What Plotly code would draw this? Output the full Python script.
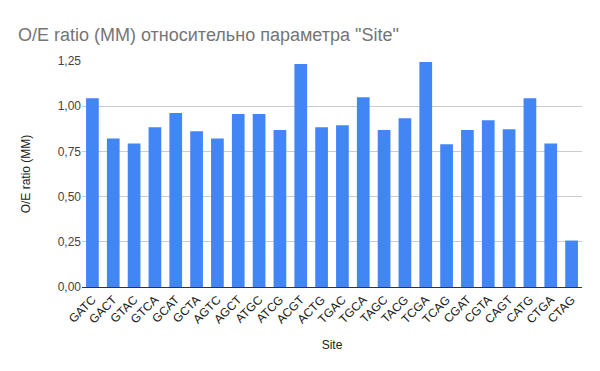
import plotly.graph_objects as go

sites = ["GATC", "GACT", "GTAC", "GTCA", "GCAT", "GCTA", "AGTC", "AGCT", "ATGC", "ATCG",
         "ACGT", "ACTG", "TGAC", "TGCA", "TAGC", "TACG", "TCGA", "TCAG", "CGAT", "CGTA",
         "CAGT", "CATG", "CTGA", "CTAG"]
oe_ratio = [1.044, 0.822, 0.794, 0.883, 0.962, 0.862, 0.822, 0.957, 0.957, 0.868,
            1.234, 0.883, 0.894, 1.049, 0.868, 0.933, 1.245, 0.789, 0.868, 0.922,
            0.872, 1.044, 0.794, 0.257]
y_ticks = [0, 0.25, 0.5, 0.75, 1.0, 1.25]

# page body has an 8px margin, so the figure is sized/offset to compensate
W, H = 592, 363

fig = go.Figure(go.Bar(x=sites, y=oe_ratio, marker=dict(color="#4285F4", line=dict(width=0))))

fig.update_layout(
    width=W, height=H,
    margin=dict(l=74, r=18, t=53, b=84, autoexpand=False),
    paper_bgcolor="white", plot_bgcolor="white",
    separators=", ",
    font=dict(family="Arial, 'Liberation Sans', sans-serif", size=12, color="#222222"),
    title=dict(text='O/E ratio (MM) относительно параметра "Site"',
               x=10 / W, xanchor="left", y=1 - 27 / H, yanchor="middle", yref="container",
               font=dict(size=18, color="#757575")),
    bargap=0.39,
    showlegend=False,
)
fig.update_yaxes(
    range=[0, 1.25], tickvals=y_ticks, tickformat=".2f", automargin=False,
    showgrid=True, gridcolor="#cccccc", gridwidth=1, zeroline=False,
    title=dict(text="O/E ratio (MM)", font=dict(size=12, color="#222222"), standoff=24),
    tickfont=dict(size=12, color="#444444"),
)
fig.update_xaxes(
    tickangle=-45, tickfont=dict(size=12, color="#222222"), automargin=False,
    showline=True, linecolor="#333333", linewidth=1,
    title=dict(text="Site", font=dict(size=12, color="#222222"), standoff=15),
)

fig.write_html("out.html")
